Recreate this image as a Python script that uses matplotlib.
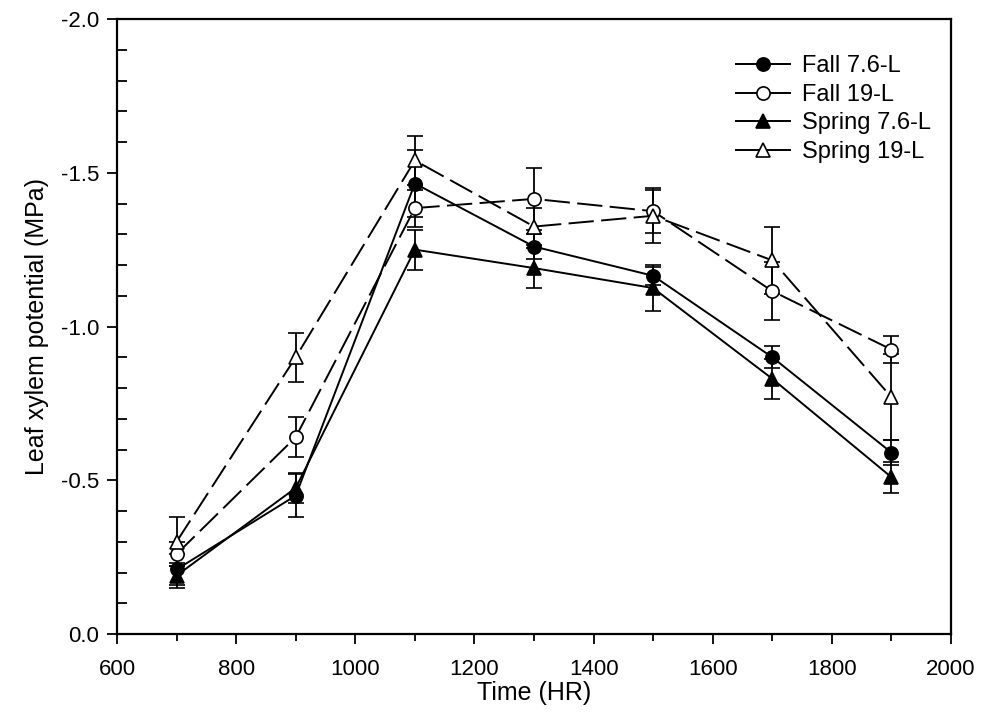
import numpy as np
import matplotlib
matplotlib.use('Agg')
import matplotlib.pyplot as plt
from matplotlib.lines import Line2D
from matplotlib.ticker import MultipleLocator, FormatStrFormatter

plt.rcParams['font.family'] = ['Liberation Sans', 'DejaVu Sans']

time = [700, 900, 1100, 1300, 1500, 1700, 1900]

fall_76 = [-0.21, -0.45, -1.465, -1.26, -1.165, -0.90, -0.59]
fall_76_err = [0.05, 0.07, 0.11, 0.04, 0.03, 0.035, 0.04]

fall_19 = [-0.26, -0.64, -1.385, -1.415, -1.375, -1.115, -0.925]
fall_19_err = [0.04, 0.065, 0.06, 0.10, 0.07, 0.095, 0.045]

spring_76 = [-0.19, -0.475, -1.25, -1.19, -1.125, -0.83, -0.51]
spring_76_err = [0.04, 0.05, 0.065, 0.065, 0.075, 0.065, 0.05]

spring_19 = [-0.30, -0.90, -1.54, -1.325, -1.36, -1.215, -0.77]
spring_19_err = [0.08, 0.08, 0.08, 0.06, 0.09, 0.11, 0.14]

labels = ['Fall 7.6-L', 'Fall 19-L', 'Spring 7.6-L', 'Spring 19-L']

fig = plt.figure(figsize=(9.82, 7.26), dpi=100)
ax = fig.add_axes([117 / 982, (726 - 634) / 726, (951 - 117) / 982, (634 - 19) / 726])

lw = 1.4
dash = (13, 3.8)
series = [
    (fall_76, fall_76_err, 'o', 'black', '-'),
    (fall_19, fall_19_err, 'o', 'white', '--'),
    (spring_76, spring_76_err, '^', 'black', '-'),
    (spring_19, spring_19_err, '^', 'white', '--'),
]
handles = []
for (vals, err, mk, fc, ls), lab in zip(series, labels):
    eb = ax.errorbar(time, vals, yerr=err, marker=mk, markersize=9.5,
                     markerfacecolor=fc, markeredgecolor='black', markeredgewidth=1.2,
                     color='black', linewidth=lw, elinewidth=1.3, capsize=5.5,
                     capthick=1.3)
    if ls == '--':
        eb.lines[0].set_dashes(dash)
    handles.append(Line2D([], [], color='black', linewidth=lw, marker=mk,
                          markersize=9.5, markerfacecolor=fc,
                          markeredgecolor='black', markeredgewidth=1.2))

ax.set_xlim(600, 2000)
ax.set_ylim(0.0, -2.0)
ax.xaxis.set_major_locator(MultipleLocator(200))
ax.xaxis.set_minor_locator(MultipleLocator(100))
ax.yaxis.set_major_locator(MultipleLocator(0.5))
ax.yaxis.set_minor_locator(MultipleLocator(0.1))
ax.yaxis.set_major_formatter(FormatStrFormatter('%.1f'))

ax.tick_params(axis='both', which='major', direction='out', length=7, width=1.3,
               labelsize=16)
ax.tick_params(axis='x', which='major', pad=11)
ax.tick_params(axis='y', which='major', pad=6)
ax.tick_params(axis='x', which='minor', direction='out', length=5, width=1.3)
ax.tick_params(axis='y', which='minor', direction='in', length=7, width=1.3)
for s in ax.spines.values():
    s.set_linewidth(1.6)

ax.set_xlabel('Time (HR)', fontsize=18, labelpad=1)
ax.set_ylabel('Leaf xylem potential (MPa)', fontsize=18, labelpad=8)

ax.legend(handles, labels, loc='upper left', bbox_to_anchor=(0.722, 0.968),
          frameon=False, fontsize=17, handlelength=2.3, handletextpad=0.5,
          labelspacing=0.28, borderpad=0.2)

fig.savefig('out.png', dpi=100)
